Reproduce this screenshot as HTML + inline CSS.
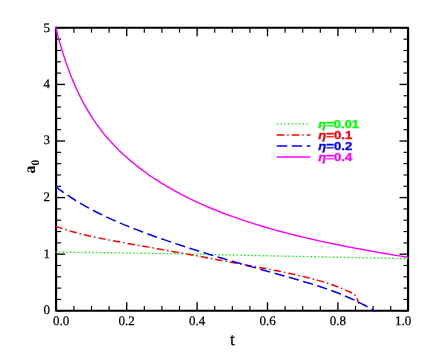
<!DOCTYPE html>
<html><head><meta charset="utf-8"><style>
html,body{margin:0;padding:0;background:#fff;}
body{width:436px;height:364px;overflow:hidden;font-family:"Liberation Serif",serif;}
svg{display:block;}
text{font-family:"Liberation Serif",serif;text-rendering:geometricPrecision;}
.lg text{font-family:"Liberation Sans",sans-serif;font-weight:bold;font-size:11.5px;stroke-width:0.3px;}
</style></head><body>
<svg width="436" height="364" viewBox="0 0 436 364">
<rect width="436" height="364" fill="#fff"/>
<g stroke="#000" fill="none"><line x1="56.30" y1="310.75" x2="56.30" y2="302.25" stroke-width="1.35"/><line x1="56.30" y1="27.85" x2="56.30" y2="36.35" stroke-width="1.35"/><line x1="73.90" y1="310.75" x2="73.90" y2="305.95" stroke-width="1.15"/><line x1="73.90" y1="27.85" x2="73.90" y2="32.65" stroke-width="1.15"/><line x1="91.50" y1="310.75" x2="91.50" y2="305.95" stroke-width="1.15"/><line x1="91.50" y1="27.85" x2="91.50" y2="32.65" stroke-width="1.15"/><line x1="109.10" y1="310.75" x2="109.10" y2="305.95" stroke-width="1.15"/><line x1="109.10" y1="27.85" x2="109.10" y2="32.65" stroke-width="1.15"/><line x1="126.70" y1="310.75" x2="126.70" y2="302.25" stroke-width="1.35"/><line x1="126.70" y1="27.85" x2="126.70" y2="36.35" stroke-width="1.35"/><line x1="144.30" y1="310.75" x2="144.30" y2="305.95" stroke-width="1.15"/><line x1="144.30" y1="27.85" x2="144.30" y2="32.65" stroke-width="1.15"/><line x1="161.90" y1="310.75" x2="161.90" y2="305.95" stroke-width="1.15"/><line x1="161.90" y1="27.85" x2="161.90" y2="32.65" stroke-width="1.15"/><line x1="179.50" y1="310.75" x2="179.50" y2="305.95" stroke-width="1.15"/><line x1="179.50" y1="27.85" x2="179.50" y2="32.65" stroke-width="1.15"/><line x1="197.10" y1="310.75" x2="197.10" y2="302.25" stroke-width="1.35"/><line x1="197.10" y1="27.85" x2="197.10" y2="36.35" stroke-width="1.35"/><line x1="214.70" y1="310.75" x2="214.70" y2="305.95" stroke-width="1.15"/><line x1="214.70" y1="27.85" x2="214.70" y2="32.65" stroke-width="1.15"/><line x1="232.30" y1="310.75" x2="232.30" y2="305.95" stroke-width="1.15"/><line x1="232.30" y1="27.85" x2="232.30" y2="32.65" stroke-width="1.15"/><line x1="249.90" y1="310.75" x2="249.90" y2="305.95" stroke-width="1.15"/><line x1="249.90" y1="27.85" x2="249.90" y2="32.65" stroke-width="1.15"/><line x1="267.50" y1="310.75" x2="267.50" y2="302.25" stroke-width="1.35"/><line x1="267.50" y1="27.85" x2="267.50" y2="36.35" stroke-width="1.35"/><line x1="285.10" y1="310.75" x2="285.10" y2="305.95" stroke-width="1.15"/><line x1="285.10" y1="27.85" x2="285.10" y2="32.65" stroke-width="1.15"/><line x1="302.70" y1="310.75" x2="302.70" y2="305.95" stroke-width="1.15"/><line x1="302.70" y1="27.85" x2="302.70" y2="32.65" stroke-width="1.15"/><line x1="320.30" y1="310.75" x2="320.30" y2="305.95" stroke-width="1.15"/><line x1="320.30" y1="27.85" x2="320.30" y2="32.65" stroke-width="1.15"/><line x1="337.90" y1="310.75" x2="337.90" y2="302.25" stroke-width="1.35"/><line x1="337.90" y1="27.85" x2="337.90" y2="36.35" stroke-width="1.35"/><line x1="355.50" y1="310.75" x2="355.50" y2="305.95" stroke-width="1.15"/><line x1="355.50" y1="27.85" x2="355.50" y2="32.65" stroke-width="1.15"/><line x1="373.10" y1="310.75" x2="373.10" y2="305.95" stroke-width="1.15"/><line x1="373.10" y1="27.85" x2="373.10" y2="32.65" stroke-width="1.15"/><line x1="390.70" y1="310.75" x2="390.70" y2="305.95" stroke-width="1.15"/><line x1="390.70" y1="27.85" x2="390.70" y2="32.65" stroke-width="1.15"/><line x1="408.30" y1="310.75" x2="408.30" y2="302.25" stroke-width="1.35"/><line x1="408.30" y1="27.85" x2="408.30" y2="36.35" stroke-width="1.35"/><line x1="56.30" y1="310.75" x2="65.10" y2="310.75" stroke-width="1.35"/><line x1="408.30" y1="310.75" x2="399.50" y2="310.75" stroke-width="1.35"/><line x1="56.30" y1="299.43" x2="61.10" y2="299.43" stroke-width="1.15"/><line x1="408.30" y1="299.43" x2="403.50" y2="299.43" stroke-width="1.15"/><line x1="56.30" y1="288.12" x2="61.10" y2="288.12" stroke-width="1.15"/><line x1="408.30" y1="288.12" x2="403.50" y2="288.12" stroke-width="1.15"/><line x1="56.30" y1="276.80" x2="61.10" y2="276.80" stroke-width="1.15"/><line x1="408.30" y1="276.80" x2="403.50" y2="276.80" stroke-width="1.15"/><line x1="56.30" y1="265.49" x2="61.10" y2="265.49" stroke-width="1.15"/><line x1="408.30" y1="265.49" x2="403.50" y2="265.49" stroke-width="1.15"/><line x1="56.30" y1="254.17" x2="65.10" y2="254.17" stroke-width="1.35"/><line x1="408.30" y1="254.17" x2="399.50" y2="254.17" stroke-width="1.35"/><line x1="56.30" y1="242.85" x2="61.10" y2="242.85" stroke-width="1.15"/><line x1="408.30" y1="242.85" x2="403.50" y2="242.85" stroke-width="1.15"/><line x1="56.30" y1="231.54" x2="61.10" y2="231.54" stroke-width="1.15"/><line x1="408.30" y1="231.54" x2="403.50" y2="231.54" stroke-width="1.15"/><line x1="56.30" y1="220.22" x2="61.10" y2="220.22" stroke-width="1.15"/><line x1="408.30" y1="220.22" x2="403.50" y2="220.22" stroke-width="1.15"/><line x1="56.30" y1="208.91" x2="61.10" y2="208.91" stroke-width="1.15"/><line x1="408.30" y1="208.91" x2="403.50" y2="208.91" stroke-width="1.15"/><line x1="56.30" y1="197.59" x2="65.10" y2="197.59" stroke-width="1.35"/><line x1="408.30" y1="197.59" x2="399.50" y2="197.59" stroke-width="1.35"/><line x1="56.30" y1="186.27" x2="61.10" y2="186.27" stroke-width="1.15"/><line x1="408.30" y1="186.27" x2="403.50" y2="186.27" stroke-width="1.15"/><line x1="56.30" y1="174.96" x2="61.10" y2="174.96" stroke-width="1.15"/><line x1="408.30" y1="174.96" x2="403.50" y2="174.96" stroke-width="1.15"/><line x1="56.30" y1="163.64" x2="61.10" y2="163.64" stroke-width="1.15"/><line x1="408.30" y1="163.64" x2="403.50" y2="163.64" stroke-width="1.15"/><line x1="56.30" y1="152.33" x2="61.10" y2="152.33" stroke-width="1.15"/><line x1="408.30" y1="152.33" x2="403.50" y2="152.33" stroke-width="1.15"/><line x1="56.30" y1="141.01" x2="65.10" y2="141.01" stroke-width="1.35"/><line x1="408.30" y1="141.01" x2="399.50" y2="141.01" stroke-width="1.35"/><line x1="56.30" y1="129.69" x2="61.10" y2="129.69" stroke-width="1.15"/><line x1="408.30" y1="129.69" x2="403.50" y2="129.69" stroke-width="1.15"/><line x1="56.30" y1="118.38" x2="61.10" y2="118.38" stroke-width="1.15"/><line x1="408.30" y1="118.38" x2="403.50" y2="118.38" stroke-width="1.15"/><line x1="56.30" y1="107.06" x2="61.10" y2="107.06" stroke-width="1.15"/><line x1="408.30" y1="107.06" x2="403.50" y2="107.06" stroke-width="1.15"/><line x1="56.30" y1="95.75" x2="61.10" y2="95.75" stroke-width="1.15"/><line x1="408.30" y1="95.75" x2="403.50" y2="95.75" stroke-width="1.15"/><line x1="56.30" y1="84.43" x2="65.10" y2="84.43" stroke-width="1.35"/><line x1="408.30" y1="84.43" x2="399.50" y2="84.43" stroke-width="1.35"/><line x1="56.30" y1="73.11" x2="61.10" y2="73.11" stroke-width="1.15"/><line x1="408.30" y1="73.11" x2="403.50" y2="73.11" stroke-width="1.15"/><line x1="56.30" y1="61.80" x2="61.10" y2="61.80" stroke-width="1.15"/><line x1="408.30" y1="61.80" x2="403.50" y2="61.80" stroke-width="1.15"/><line x1="56.30" y1="50.48" x2="61.10" y2="50.48" stroke-width="1.15"/><line x1="408.30" y1="50.48" x2="403.50" y2="50.48" stroke-width="1.15"/><line x1="56.30" y1="39.17" x2="61.10" y2="39.17" stroke-width="1.15"/><line x1="408.30" y1="39.17" x2="403.50" y2="39.17" stroke-width="1.15"/><line x1="56.30" y1="27.85" x2="65.10" y2="27.85" stroke-width="1.35"/><line x1="408.30" y1="27.85" x2="399.50" y2="27.85" stroke-width="1.35"/></g>
<rect x="56.05" y="27.75" width="352.00" height="283.00" fill="none" stroke="#000" stroke-width="2.2" stroke-linejoin="round"/>
<g fill="none" stroke-linecap="butt" stroke-linejoin="round">
<path d="M55.50 252.10 C74.32 252.35 137.65 253.08 168.40 253.60 C199.15 254.12 214.73 254.65 240.00 255.20 C265.27 255.75 291.93 256.33 320.00 256.90 C348.07 257.47 393.67 258.32 408.40 258.60" stroke="#00ff00" stroke-width="1.4" stroke-dasharray="1.4 2.3"/>
<path d="M55.50 226.23 C56.50 226.58 59.49 227.66 61.49 228.33 C63.48 228.99 65.48 229.62 67.48 230.22 C69.47 230.83 71.47 231.40 73.46 231.95 C75.46 232.50 77.46 233.03 79.45 233.54 C81.45 234.05 83.44 234.53 85.44 235.01 C87.43 235.48 89.43 235.93 91.43 236.37 C93.42 236.82 95.42 237.24 97.41 237.66 C99.41 238.08 101.41 238.48 103.40 238.88 C105.40 239.28 107.39 239.67 109.39 240.05 C111.39 240.43 113.38 240.81 115.38 241.18 C117.37 241.55 119.37 241.92 121.37 242.28 C123.36 242.64 125.36 243.00 127.35 243.36 C129.35 243.72 131.34 244.07 133.34 244.43 C135.34 244.78 137.33 245.13 139.33 245.49 C141.32 245.84 143.32 246.19 145.32 246.55 C147.31 246.90 149.31 247.25 151.30 247.61 C153.30 247.96 155.30 248.32 157.29 248.67 C159.29 249.03 161.28 249.38 163.28 249.74 C165.28 250.10 167.27 250.46 169.27 250.82 C171.26 251.18 173.26 251.54 175.26 251.91 C177.25 252.27 179.25 252.63 181.24 253.00 C183.24 253.36 185.23 253.73 187.23 254.09 C189.23 254.46 191.22 254.83 193.22 255.20 C195.21 255.57 197.21 255.93 199.21 256.30 C201.20 256.67 203.20 257.04 205.19 257.41 C207.19 257.78 209.19 258.15 211.18 258.52 C213.18 258.89 215.17 259.27 217.17 259.64 C219.17 260.01 221.16 260.38 223.16 260.75 C225.15 261.12 227.15 261.49 229.14 261.86 C231.14 262.22 233.14 262.59 235.13 262.96 C237.13 263.33 239.12 263.70 241.12 264.07 C243.12 264.44 245.11 264.81 247.11 265.18 C249.10 265.55 251.10 265.92 253.10 266.29 C255.09 266.66 257.09 267.04 259.08 267.41 C261.08 267.79 263.08 268.16 265.07 268.54 C267.07 268.92 269.06 269.30 271.06 269.69 C273.06 270.07 275.05 270.46 277.05 270.86 C279.04 271.25 281.04 271.65 283.03 272.06 C285.03 272.47 287.03 272.88 289.02 273.30 C291.02 273.72 293.01 274.15 295.01 274.60 C297.01 275.04 299.00 275.49 301.00 275.96 C302.99 276.43 304.99 276.90 306.99 277.40 C308.98 277.90 310.98 278.41 312.97 278.94 C314.97 279.48 316.97 280.03 318.96 280.60 C320.96 281.18 322.95 281.77 324.95 282.40 C326.94 283.03 328.94 283.68 330.94 284.36 C332.93 285.05 334.93 285.76 336.92 286.52 C338.92 287.27 340.92 288.06 342.91 288.89 C344.91 289.72 346.97 290.55 348.90 291.51 C350.83 292.48 353.22 293.64 354.50 294.70 C355.78 295.76 355.93 296.57 356.60 297.90 C357.27 299.23 358.05 301.77 358.50 302.70 C358.95 303.63 359.17 303.37 359.30 303.50" stroke="#ff0000" stroke-width="1.5" stroke-dasharray="7.33 2.97 1.49 3.06"/>
<path d="M55.50 186.53 C56.40 187.21 59.10 189.28 60.91 190.59 C62.71 191.91 64.51 193.17 66.31 194.41 C68.11 195.64 69.91 196.83 71.72 198.00 C73.52 199.16 75.32 200.28 77.12 201.38 C78.92 202.48 80.72 203.54 82.53 204.58 C84.33 205.62 86.13 206.63 87.93 207.61 C89.73 208.60 91.53 209.56 93.34 210.49 C95.14 211.43 96.94 212.34 98.74 213.24 C100.54 214.13 102.34 215.00 104.15 215.86 C105.95 216.72 107.75 217.55 109.55 218.37 C111.35 219.20 113.15 220.00 114.96 220.79 C116.76 221.58 118.56 222.35 120.36 223.12 C122.16 223.88 123.96 224.63 125.77 225.37 C127.57 226.11 129.37 226.83 131.17 227.55 C132.97 228.26 134.77 228.97 136.58 229.66 C138.38 230.36 140.18 231.05 141.98 231.73 C143.78 232.41 145.58 233.08 147.39 233.74 C149.19 234.40 150.99 235.06 152.79 235.71 C154.59 236.35 156.39 237.00 158.20 237.63 C160.00 238.27 161.80 238.90 163.60 239.52 C165.40 240.15 167.21 240.77 169.01 241.38 C170.81 242.00 172.61 242.60 174.41 243.21 C176.21 243.81 178.02 244.41 179.82 245.01 C181.62 245.60 183.42 246.19 185.22 246.78 C187.02 247.36 188.83 247.95 190.63 248.53 C192.43 249.10 194.23 249.68 196.03 250.25 C197.83 250.82 199.64 251.39 201.44 251.95 C203.24 252.51 205.04 253.07 206.84 253.63 C208.64 254.18 210.45 254.74 212.25 255.29 C214.05 255.84 215.85 256.38 217.65 256.92 C219.45 257.47 221.26 258.01 223.06 258.54 C224.86 259.08 226.66 259.61 228.46 260.14 C230.26 260.67 232.07 261.20 233.87 261.72 C235.67 262.25 237.47 262.77 239.27 263.29 C241.07 263.81 242.88 264.32 244.68 264.84 C246.48 265.35 248.28 265.86 250.08 266.37 C251.88 266.88 253.69 267.39 255.49 267.90 C257.29 268.41 259.09 268.91 260.89 269.41 C262.69 269.92 264.50 270.42 266.30 270.92 C268.10 271.43 269.90 271.93 271.70 272.43 C273.51 272.93 275.31 273.43 277.11 273.94 C278.91 274.44 280.71 274.95 282.51 275.45 C284.32 275.96 286.12 276.47 287.92 276.98 C289.72 277.49 291.52 278.00 293.32 278.52 C295.13 279.04 296.93 279.56 298.73 280.09 C300.53 280.62 302.33 281.15 304.13 281.69 C305.94 282.23 307.74 282.77 309.54 283.33 C311.34 283.89 313.14 284.45 314.94 285.02 C316.75 285.60 318.55 286.18 320.35 286.78 C322.15 287.38 323.95 287.98 325.75 288.61 C327.56 289.23 329.36 289.87 331.16 290.52 C332.96 291.18 334.76 291.85 336.56 292.54 C338.37 293.23 340.17 293.94 341.97 294.68 C343.77 295.41 345.57 296.16 347.37 296.95 C349.18 297.73 350.98 298.53 352.78 299.37 C354.58 300.21 356.38 301.07 358.18 301.97 C359.99 302.86 361.79 303.79 363.59 304.75 C365.39 305.72 367.19 306.72 368.99 307.76 C370.80 308.80 373.40 310.35 374.40 311.01 C375.40 311.67 374.90 311.59 375.00 311.70" stroke="#0000ff" stroke-width="1.5" stroke-dasharray="10.27 4.54"/>
<path d="M55.50 26.51 C56.09 28.76 57.88 35.75 59.06 40.02 C60.25 44.28 61.44 48.27 62.63 52.10 C63.81 55.92 65.00 59.51 66.19 62.95 C67.38 66.39 68.56 69.64 69.75 72.75 C70.94 75.86 72.13 78.80 73.31 81.63 C74.50 84.46 75.69 87.13 76.88 89.71 C78.06 92.29 79.25 94.74 80.44 97.10 C81.63 99.46 82.81 101.71 84.00 103.89 C85.19 106.06 86.38 108.14 87.56 110.15 C88.75 112.15 89.94 114.08 91.13 115.94 C92.31 117.80 93.50 119.59 94.69 121.33 C95.88 123.06 97.06 124.73 98.25 126.35 C99.44 127.98 100.63 129.54 101.81 131.06 C103.00 132.58 104.19 134.05 105.38 135.49 C106.56 136.92 107.75 138.30 108.94 139.66 C110.13 141.01 111.31 142.32 112.50 143.60 C113.69 144.88 114.88 146.12 116.06 147.34 C117.25 148.55 118.44 149.74 119.63 150.89 C120.81 152.05 122.00 153.18 123.19 154.28 C124.38 155.38 125.56 156.46 126.75 157.51 C127.94 158.57 129.13 159.60 130.32 160.61 C131.50 161.62 132.69 162.61 133.88 163.57 C135.07 164.54 136.25 165.49 137.44 166.42 C138.63 167.35 139.82 168.26 141.00 169.16 C142.19 170.06 143.38 170.93 144.57 171.80 C145.75 172.66 146.94 173.51 148.13 174.34 C149.32 175.17 150.50 175.99 151.69 176.79 C152.88 177.60 154.07 178.39 155.25 179.16 C156.44 179.94 157.63 180.70 158.82 181.46 C160.00 182.21 161.19 182.95 162.38 183.67 C163.57 184.40 164.75 185.12 165.94 185.82 C167.13 186.53 168.32 187.22 169.50 187.91 C170.69 188.59 171.88 189.26 173.07 189.93 C174.25 190.59 175.44 191.24 176.63 191.89 C177.82 192.53 179.00 193.17 180.19 193.79 C181.38 194.42 182.57 195.03 183.75 195.64 C184.94 196.25 186.13 196.85 187.32 197.44 C188.50 198.03 189.69 198.61 190.88 199.19 C192.07 199.76 193.25 200.33 194.44 200.89 C195.63 201.45 196.82 202.00 198.01 202.54 C199.19 203.09 200.38 203.62 201.57 204.15 C202.76 204.68 203.94 205.21 205.13 205.72 C206.32 206.24 207.51 206.75 208.69 207.25 C209.88 207.75 211.07 208.25 212.26 208.74 C213.44 209.23 214.63 209.72 215.82 210.19 C217.01 210.67 218.19 211.14 219.38 211.61 C220.57 212.08 221.76 212.54 222.94 212.99 C224.13 213.45 225.32 213.90 226.51 214.34 C227.69 214.79 228.88 215.22 230.07 215.66 C231.26 216.09 232.44 216.52 233.63 216.94 C234.82 217.37 236.01 217.78 237.19 218.20 C238.38 218.61 239.57 219.02 240.76 219.43 C241.94 219.83 243.13 220.23 244.32 220.62 C245.51 221.02 246.69 221.41 247.88 221.80 C249.07 222.18 250.26 222.56 251.44 222.94 C252.63 223.32 253.82 223.69 255.01 224.06 C256.19 224.43 257.38 224.80 258.57 225.16 C259.76 225.52 260.94 225.88 262.13 226.23 C263.32 226.59 264.51 226.94 265.69 227.28 C266.88 227.63 268.07 227.97 269.26 228.31 C270.45 228.65 271.63 228.99 272.82 229.32 C274.01 229.65 275.20 229.98 276.38 230.31 C277.57 230.64 278.76 230.96 279.95 231.28 C281.13 231.60 282.32 231.91 283.51 232.23 C284.70 232.54 285.88 232.85 287.07 233.16 C288.26 233.47 289.45 233.77 290.63 234.07 C291.82 234.37 293.01 234.67 294.20 234.97 C295.38 235.26 296.57 235.56 297.76 235.85 C298.95 236.14 300.13 236.42 301.32 236.71 C302.51 237.00 303.70 237.28 304.88 237.56 C306.07 237.84 307.26 238.12 308.45 238.39 C309.63 238.67 310.82 238.94 312.01 239.21 C313.20 239.48 314.38 239.75 315.57 240.02 C316.76 240.28 317.95 240.55 319.13 240.81 C320.32 241.07 321.51 241.33 322.70 241.59 C323.88 241.84 325.07 242.10 326.26 242.35 C327.45 242.61 328.63 242.86 329.82 243.11 C331.01 243.35 332.20 243.60 333.38 243.85 C334.57 244.09 335.76 244.34 336.95 244.58 C338.14 244.82 339.32 245.06 340.51 245.30 C341.70 245.54 342.89 245.77 344.07 246.01 C345.26 246.24 346.45 246.48 347.64 246.71 C348.82 246.94 350.01 247.17 351.20 247.40 C352.39 247.62 353.57 247.85 354.76 248.08 C355.95 248.30 357.14 248.52 358.32 248.75 C359.51 248.97 360.70 249.19 361.89 249.41 C363.07 249.63 364.26 249.84 365.45 250.06 C366.64 250.28 367.82 250.49 369.01 250.70 C370.20 250.92 371.39 251.13 372.57 251.34 C373.76 251.55 374.95 251.76 376.14 251.97 C377.32 252.18 378.51 252.39 379.70 252.59 C380.89 252.80 382.07 253.00 383.26 253.21 C384.45 253.41 385.64 253.61 386.82 253.81 C388.01 254.01 389.20 254.21 390.39 254.41 C391.57 254.61 392.76 254.81 393.95 255.01 C395.14 255.20 396.32 255.40 397.51 255.59 C398.70 255.79 399.89 255.98 401.07 256.17 C402.26 256.37 403.45 256.56 404.64 256.75 C405.82 256.94 407.61 257.22 408.20 257.32" stroke="#ff00ff" stroke-width="1.4"/>
</g>
<defs><filter id="gs" x="0" y="0" width="436" height="364" filterUnits="userSpaceOnUse"><feOffset dx="0" dy="0"/></filter></defs>
<g filter="url(#gs)">
<g font-size="13" fill="#000" stroke="#000" stroke-width="0.25"><text x="61.10" y="324.8" text-anchor="middle">0.0</text><text x="126.70" y="324.8" text-anchor="middle">0.2</text><text x="197.10" y="324.8" text-anchor="middle">0.4</text><text x="267.50" y="324.8" text-anchor="middle">0.6</text><text x="337.90" y="324.8" text-anchor="middle">0.8</text><text x="403.10" y="324.8" text-anchor="middle">1.0</text><text x="50.0" y="314.25" text-anchor="end">0</text><text x="50.0" y="257.77" text-anchor="end">1</text><text x="50.0" y="201.09" text-anchor="end">2</text><text x="50.0" y="143.91" text-anchor="end">3</text><text x="50.0" y="87.63" text-anchor="end">4</text><text x="50.0" y="31.85" text-anchor="end">5</text></g>
<text x="232.4" y="345" font-size="17.5" text-anchor="middle" fill="#000" stroke="#000" stroke-width="0.2">t</text>
<g transform="translate(35.3,166.6) rotate(-90)"><text x="0" y="0" font-size="16" font-weight="bold" text-anchor="middle" fill="#000">a<tspan font-size="11.5" dy="4">0</tspan></text></g>
<g fill="none" stroke-width="1.4">
<line x1="276.8" y1="123.9" x2="308" y2="123.9" stroke="#00ff00" stroke-dasharray="1.4 2.3"/>
<line x1="276.8" y1="135.05" x2="310.3" y2="135.05" stroke="#ff0000" stroke-dasharray="7.4 3 1.5 3.1"/>
<line x1="276.8" y1="146.05" x2="310.3" y2="146.05" stroke="#0000ff" stroke-dasharray="10.4 4.6"/>
<line x1="276.8" y1="157" x2="310.3" y2="157" stroke="#ff00ff"/>
</g>
<g class="lg">
<text x="318.3" y="127.8" fill="#00ff00" stroke="#00ff00" textLength="40.8" lengthAdjust="spacingAndGlyphs"><tspan font-style="italic">η</tspan>=0.01</text>
<text x="318.3" y="138.9" fill="#ff0000" stroke="#ff0000" textLength="34.0" lengthAdjust="spacingAndGlyphs"><tspan font-style="italic">η</tspan>=0.1</text>
<text x="318.3" y="149.8" fill="#0000ff" stroke="#0000ff" textLength="34.0" lengthAdjust="spacingAndGlyphs"><tspan font-style="italic">η</tspan>=0.2</text>
<text x="318.3" y="160.7" fill="#ff00ff" stroke="#ff00ff" textLength="34.0" lengthAdjust="spacingAndGlyphs"><tspan font-style="italic">η</tspan>=0.4</text>
</g>
</g>
</svg>
</body></html>
